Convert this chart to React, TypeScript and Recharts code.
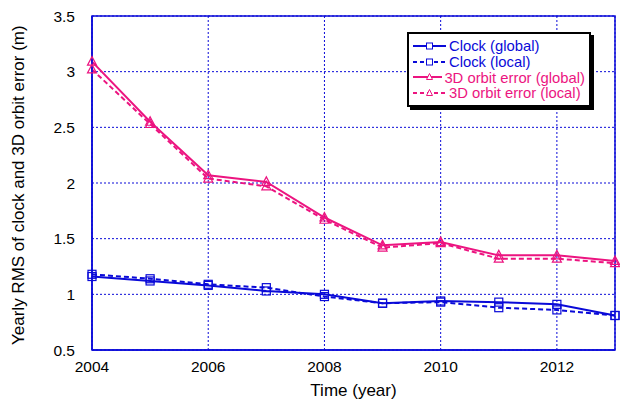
import { LineChart, Line, XAxis, YAxis, CartesianGrid, ReferenceArea } from 'recharts';

const years = [2004, 2005, 2006, 2007, 2008, 2009, 2010, 2011, 2012, 2013];
const clockGlobal = [1.16, 1.12, 1.08, 1.03, 1.0, 0.92, 0.94, 0.93, 0.91, 0.81];
const clockLocal = [1.18, 1.14, 1.09, 1.06, 0.98, 0.92, 0.93, 0.88, 0.86, 0.81];
const orbitGlobal = [3.09, 2.55, 2.07, 2.01, 1.69, 1.44, 1.47, 1.35, 1.35, 1.3];
const orbitLocal = [3.02, 2.53, 2.04, 1.97, 1.67, 1.42, 1.46, 1.32, 1.32, 1.28];
const xTicks = [2004, 2006, 2008, 2010, 2012];
const yTicks = [0.5, 1, 1.5, 2, 2.5, 3, 3.5];

const BLUE = '#0a0ad8';
const PINK = '#ec1480';
const FONT = '"Liberation Sans", Arial, sans-serif';

const data = years.map((y, i) => ({
  year: y,
  clockGlobal: clockGlobal[i],
  clockLocal: clockLocal[i],
  orbitGlobal: orbitGlobal[i],
  orbitLocal: orbitLocal[i],
}));

const legendItems = [
  { name: 'Clock (global)', color: BLUE, dash: false, shape: 'square' },
  { name: 'Clock (local)', color: BLUE, dash: true, shape: 'square' },
  { name: '3D orbit error (global)', color: PINK, dash: false, shape: 'triangle' },
  { name: '3D orbit error (local)', color: PINK, dash: true, shape: 'triangle' },
];

const Square = (props: any) => {
  const { cx, cy, stroke } = props;
  if (cx == null || cy == null) return null;
  return <rect x={cx - 4} y={cy - 4} width={8} height={8} fill="none" stroke={stroke} strokeWidth={1.2} />;
};

const Triangle = (props: any) => {
  const { cx, cy, stroke } = props;
  if (cx == null || cy == null) return null;
  return (
    <polygon
      points={`${cx},${cy - 5} ${cx - 4.5},${cy + 3.5} ${cx + 4.5},${cy + 3.5}`}
      fill="none" stroke={stroke} strokeWidth={1.2}
    />
  );
};

const LegendBox = () => (
  <div style={{
    position: 'absolute', left: 407, top: 32,
    border: '2px solid #000', background: '#fff', boxShadow: '3px 3px 0 #000',
    padding: '4px 4px 4px 4px', width: 172, fontFamily: FONT, fontSize: 14.8,
  }}>
    {legendItems.map((d) => (
      <div key={d.name} style={{ display: 'flex', alignItems: 'center', height: 15.8 }}>
        <svg width={34} height={12} style={{ marginRight: 2 }}>
          <line x1={0} y1={6} x2={33} y2={6} stroke={d.color} strokeWidth={2} strokeDasharray={d.dash ? '4 3' : undefined} />
          {d.shape === 'square'
            ? <rect x={13.5} y={3} width={6} height={6} fill="#fff" stroke={d.color} strokeWidth={1} />
            : <polygon points="16.5,2.5 13.5,8.5 19.5,8.5" fill="#fff" stroke={d.color} strokeWidth={1} />}
        </svg>
        <span style={{ color: d.color, whiteSpace: 'nowrap' }}>{d.name}</span>
      </div>
    ))}
  </div>
);

export default function App() {
  return (
    <div style={{ position: 'absolute', left: 0, top: 0, width: 620, height: 400, background: '#fff' }}>
      <LineChart width={620} height={400} data={data} margin={{ top: 16, right: 5, bottom: 0, left: 32 }}>
        <CartesianGrid stroke={BLUE} strokeDasharray="2 2" strokeWidth={1} />
        <XAxis
          dataKey="year" type="number" domain={[2004, 2013]} ticks={xTicks}
          height={50} axisLine={{ stroke: BLUE, strokeWidth: 1.5 }} tickLine={false}
          tick={{ fill: '#000', fontSize: 15.5, fontFamily: FONT }} tickMargin={5}
          label={{ value: 'Time (year)', position: 'insideBottom', offset: 4, fill: '#000', fontSize: 17, fontFamily: FONT }}
        />
        <YAxis
          type="number" domain={[0.5, 3.5]} ticks={yTicks} width={60}
          axisLine={{ stroke: BLUE, strokeWidth: 1.5 }} tickLine={false}
          tick={{ fill: '#000', fontSize: 15.5, fontFamily: FONT }} tickMargin={11}
          label={{ value: 'Yearly RMS of clock and 3D orbit error (m)', angle: -90, position: 'insideLeft', offset: -14, dy: 162, fill: '#000', fontSize: 17, fontFamily: FONT }}
        />
        <ReferenceArea x1={2004} x2={2013} y1={0.5} y2={3.5} fill="none" stroke={BLUE} strokeWidth={1.5} />
        <Line dataKey="clockGlobal" stroke={BLUE} strokeWidth={2} dot={<Square />} isAnimationActive={false} />
        <Line dataKey="clockLocal" stroke={BLUE} strokeWidth={2} strokeDasharray="5 3" dot={<Square />} isAnimationActive={false} />
        <Line dataKey="orbitGlobal" stroke={PINK} strokeWidth={2} dot={<Triangle />} isAnimationActive={false} />
        <Line dataKey="orbitLocal" stroke={PINK} strokeWidth={2} strokeDasharray="5 3" dot={<Triangle />} isAnimationActive={false} />
      </LineChart>
      <LegendBox />
    </div>
  );
}
